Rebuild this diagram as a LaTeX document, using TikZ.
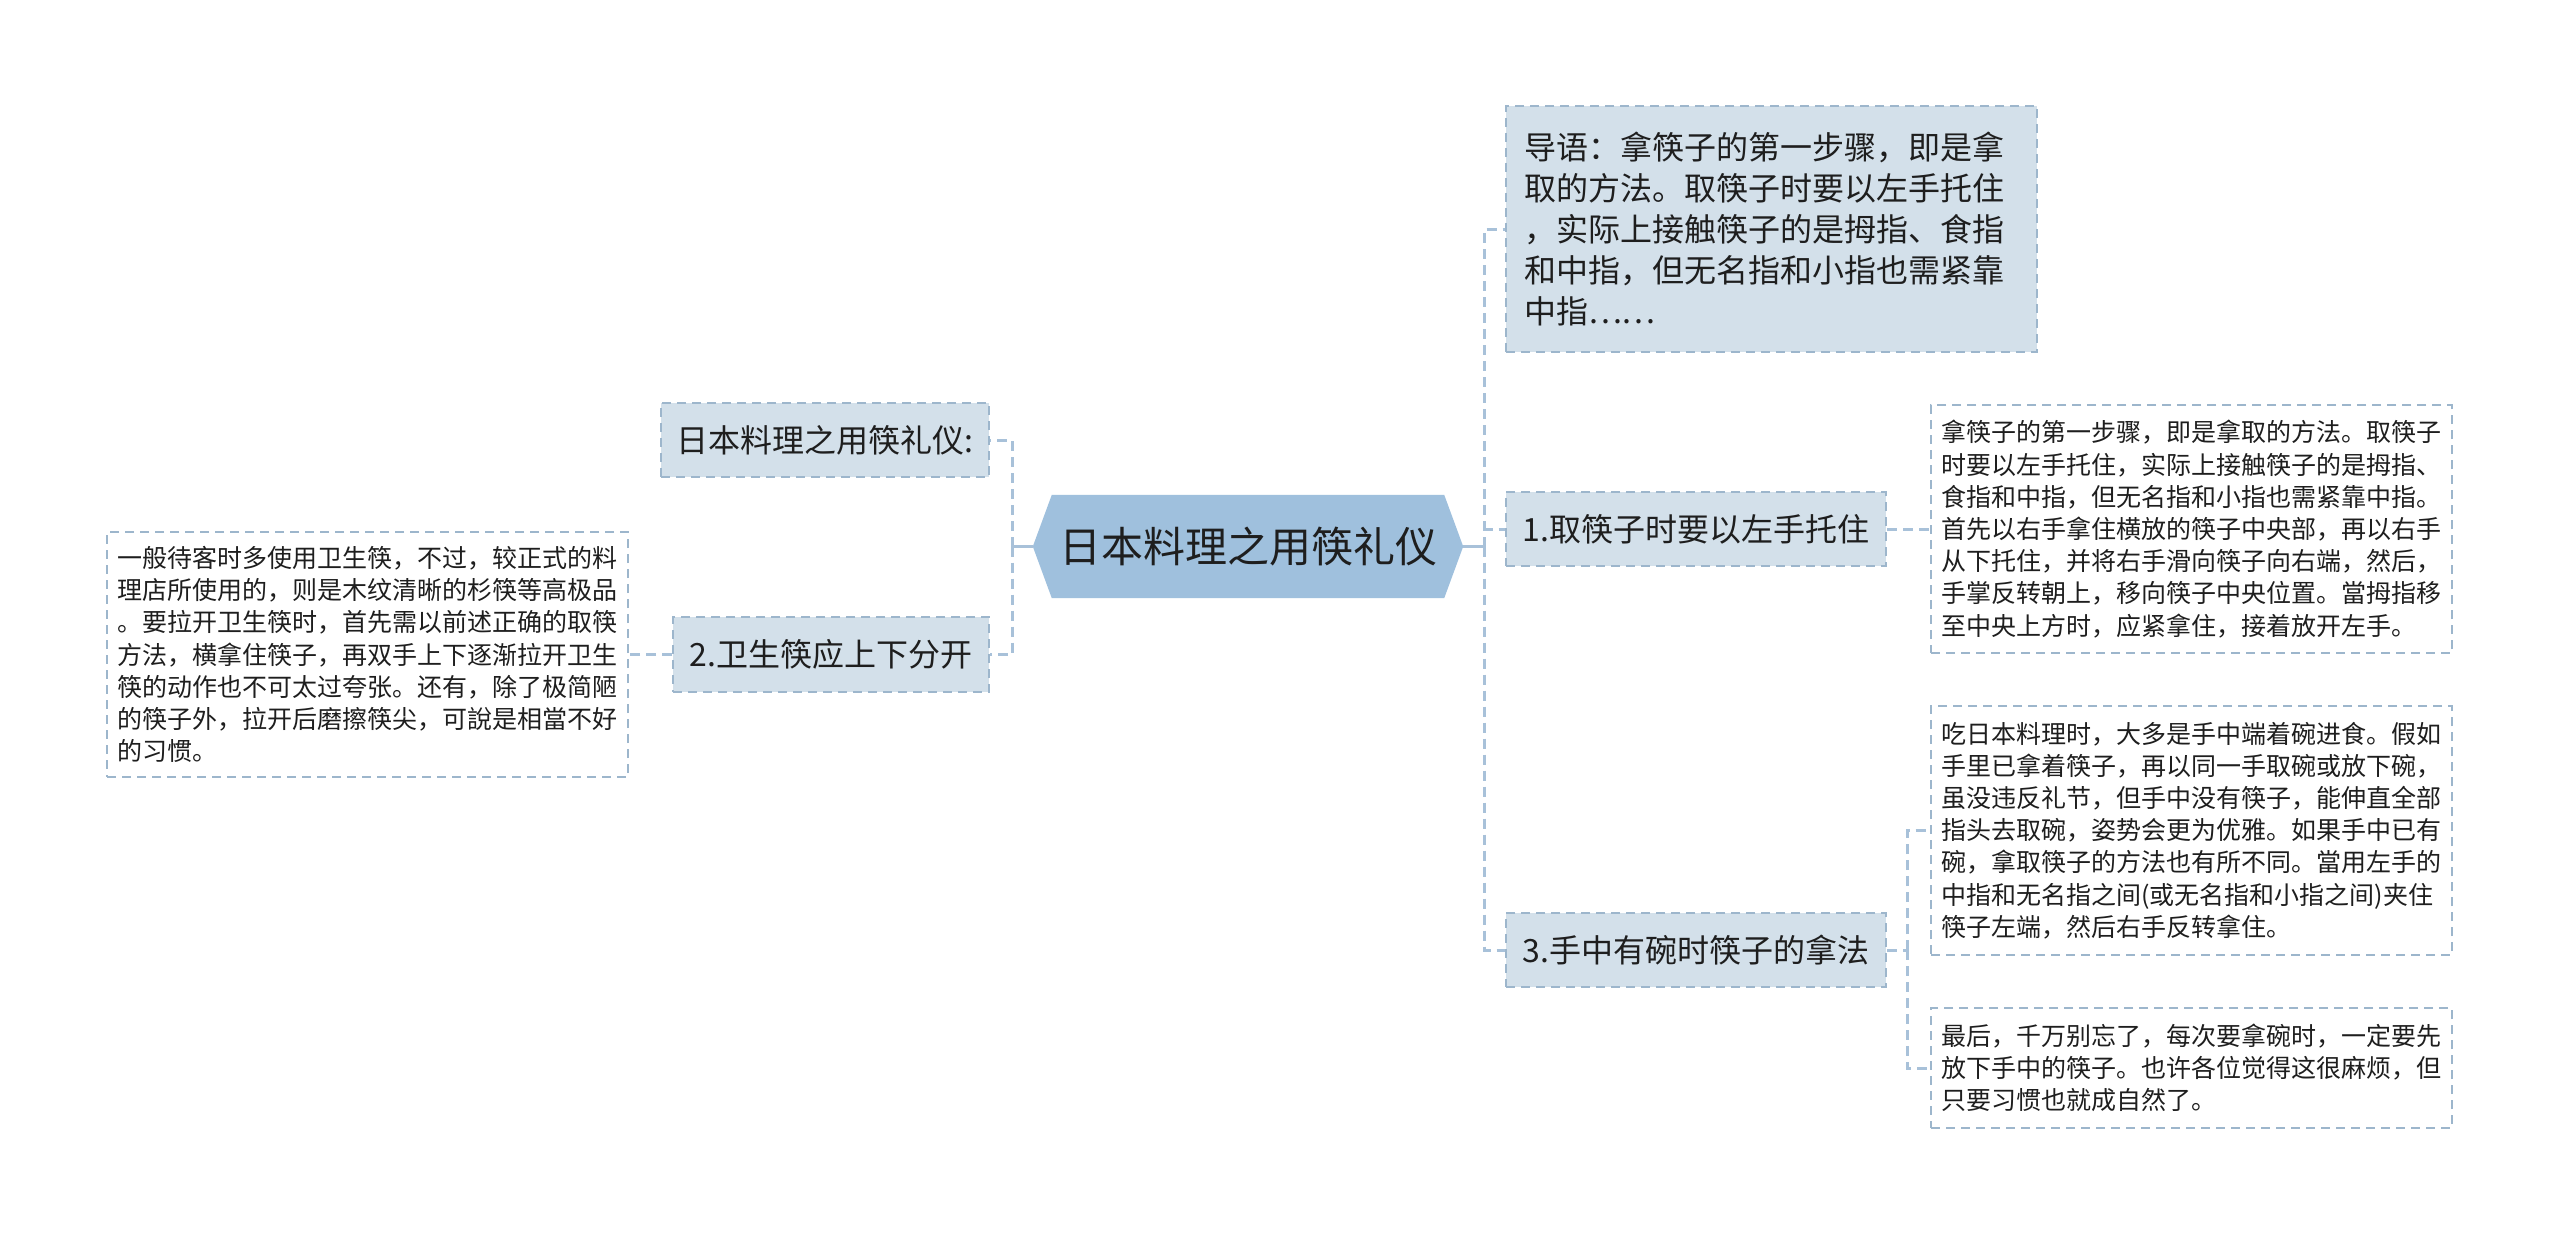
\documentclass[tikz,border=0pt]{standalone}
\usepackage{fontspec}
\setmainfont{Noto Sans CJK SC}
\usetikzlibrary{backgrounds}
\definecolor{subfill}{HTML}{D3E0EA}
\definecolor{subline}{HTML}{9DB6CC}
\definecolor{connc}{HTML}{A8C1D9}
\definecolor{hexfill}{HTML}{9FC0DD}
\definecolor{txt}{HTML}{1E1E1E}
\tikzset{
  boxbase/.style={draw=subline, line width=2pt, dash pattern=on 9pt off 6pt, text=txt, inner sep=0pt},
  subnode/.style={boxbase, fill=subfill, font=\fontsize{32}{41}\selectfont},
  detail/.style={boxbase, fill=white, font=\fontsize{25}{32.2}\selectfont, align=left, text width=500pt, inner xsep=10.5pt},
  conn/.style={draw=connc, line width=3pt, dash pattern=on 10pt off 6pt},
  stub/.style={draw=connc, line width=3pt},
}
\begin{document}
\begin{tikzpicture}[x=1pt,y=-1pt]
\useasboundingbox (0,0) rectangle (2560,1236);

% root
\node[font=\fontsize{42}{50}\selectfont, text=txt, minimum width=430pt, minimum height=103pt, inner sep=0pt] (root) at (1248,546.5) {日本料理之用筷礼仪};

% left side
\node[subnode, minimum width=328pt, minimum height=74pt] (n0) at (825,440) {日本料理之用筷礼仪:};
\node[subnode, minimum width=316pt, minimum height=75pt] (n2) at (831,654.5) {2.卫生筷应上下分开};
\node[detail, minimum height=245pt] (d2) at (367.5,654.5) {一般待客时多使用卫生筷，不过，较正式的料\\理店所使用的，则是木纹清晰的杉筷等高极品\\。要拉开卫生筷时，首先需以前述正确的取筷\\方法，横拿住筷子，再双手上下逐渐拉开卫生\\筷的动作也不可太过夸张。还有，除了极简陋\\的筷子外，拉开后磨擦筷尖，可說是相當不好\\的习惯。};

% right side
\node[subnode, align=left, text width=495pt, inner xsep=18pt, minimum height=246pt] (intro) at (1771.5,229) {导语：拿筷子的第一步骤，即是拿\\取的方法。取筷子时要以左手托住\\，实际上接触筷子的是拇指、食指\\和中指，但无名指和小指也需紧靠\\中指……};
\node[subnode, minimum width=380pt, minimum height=74pt] (n1) at (1696,529) {1.取筷子时要以左手托住};
\node[detail, minimum height=248pt] (d1) at (2191.5,529) {拿筷子的第一步骤，即是拿取的方法。取筷子\\时要以左手托住，实际上接触筷子的是拇指、\\食指和中指，但无名指和小指也需紧靠中指。\\首先以右手拿住横放的筷子中央部，再以右手\\从下托住，并将右手滑向筷子向右端，然后，\\手掌反转朝上，移向筷子中央位置。當拇指移\\至中央上方时，应紧拿住，接着放开左手。};
\node[subnode, minimum width=380pt, minimum height=74pt] (n3) at (1696,950) {3.手中有碗时筷子的拿法};
\node[detail, minimum height=249pt] (d3a) at (2191.5,830.5) {吃日本料理时，大多是手中端着碗进食。假如\\手里已拿着筷子，再以同一手取碗或放下碗，\\虽没违反礼节，但手中没有筷子，能伸直全部\\指头去取碗，姿势会更为优雅。如果手中已有\\碗，拿取筷子的方法也有所不同。當用左手的\\中指和无名指之间(或无名指和小指之间)夹住\\筷子左端，然后右手反转拿住。};
\node[detail, minimum height=120pt] (d3b) at (2191.5,1068) {最后，千万别忘了，每次要拿碗时，一定要先\\放下手中的筷子。也许各位觉得这很麻烦，但\\只要习惯也就成自然了。};

% connectors and root hexagon behind the nodes
\coordinate (hubL) at (1012,546.5);
\coordinate (hubR) at (1484,546.5);
\coordinate (hub3) at (1907,950);
\begin{scope}[on background layer]
\fill[white] (0,0) rectangle (2560,1236);
\fill[hexfill] (root.west) -- ([xshift=19pt]root.north west) -- ([xshift=-19pt]root.north east) -- (root.east) -- ([xshift=-19pt]root.south east) -- ([xshift=19pt]root.south west) -- cycle;
\draw[stub] (root.west) -- (hubL);
\draw[conn] (hubL) |- (n0.east);
\draw[conn] (hubL) |- (n2.east);
\draw[conn] (n2.west) -- (d2.east);
\draw[stub] (root.east) -- (hubR);
\draw[conn] (hubR) |- (intro.west);
\draw[conn] (hubR) |- (n1.west);
\draw[conn] (hubR) |- (n3.west);
\draw[conn] (n1.east) -- (d1.west);
\draw[conn] (n3.east) -- (hub3);
\draw[conn] (hub3) |- (d3a.west);
\draw[conn] (hub3) |- (d3b.west);
\end{scope}
\end{tikzpicture}
\end{document}
